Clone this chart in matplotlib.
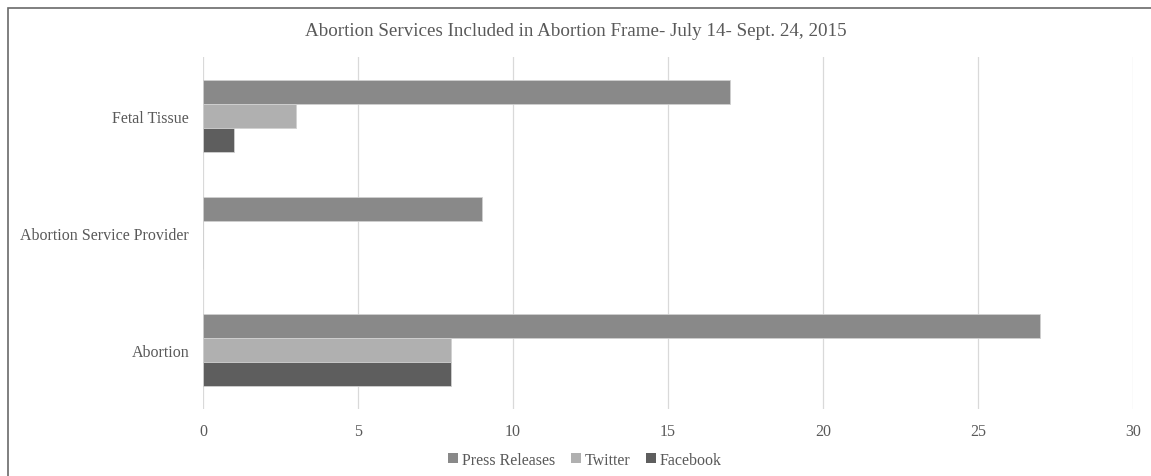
import matplotlib
matplotlib.use("Agg")
import matplotlib.pyplot as plt
from matplotlib.patches import Rectangle
import numpy as np

categories = ["Abortion", "Abortion Service Provider", "Fetal Tissue"]
series_names = ["Press Releases", "Twitter", "Facebook"]
press = [27, 9, 17]
twitter = [8, 0, 3]
facebook = [8, 0, 1]
colors = ["#898989", "#b0b0b0", "#5e5e5e"]
xticks = [0, 5, 10, 15, 20, 25, 30]

plt.rcParams['font.family'] = ['Liberation Serif', 'DejaVu Serif']
txt = "#595959"

W, H = 1151, 477
fig = plt.figure(figsize=(W/100, H/100), dpi=100)
ax = fig.add_axes([203/W, 1-410/H, (1133-203)/W, (410-58)/H])

y = np.arange(len(categories))
h = 0.205
for vals, off, c, name in zip([press, twitter, facebook], [h, 0, -h], colors, series_names):
    ax.barh(y + off, vals, height=h, color=c, edgecolor="#d0d0d0", linewidth=0.6, label=name, zorder=3)

ax.set_xlim(0, 30)
ax.set_ylim(-0.5, 2.5)
ax.set_xticks(xticks)
ax.set_xticklabels([str(t) for t in xticks], color=txt, fontsize=11.5)
ax.set_yticks(y)
ax.set_yticklabels(categories, color=txt, fontsize=11.5)
ax.tick_params(length=0)
ax.tick_params(axis='x', pad=10)
ax.tick_params(axis='y', pad=10)
ax.grid(axis='x', color="#d9d9d9", linewidth=0.9, zorder=0)
for s in ax.spines.values():
    s.set_visible(False)

fig.text(576/W, 1-32/H, "Abortion Services Included in Abortion Frame- July 14- Sept. 24, 2015",
         ha="center", va="center", fontsize=13.7, color=txt)

handles, labels = ax.get_legend_handles_labels()
leg = fig.legend(handles, labels, loc="center", bbox_to_anchor=(585/W, 1-461/H), ncol=3,
                 frameon=False, fontsize=11.5, handlelength=0.6, handleheight=0.6,
                 handletextpad=0.25, columnspacing=1.0, labelcolor=txt)
for p in leg.get_patches():
    p.set_edgecolor("none")

fig.patches.append(Rectangle((8/W, -0.1), 1.2, 1-9/H + 0.1, transform=fig.transFigure,
                             fill=False, edgecolor="#6a6a6a", linewidth=1.2))

fig.savefig("out.png", dpi=100)
